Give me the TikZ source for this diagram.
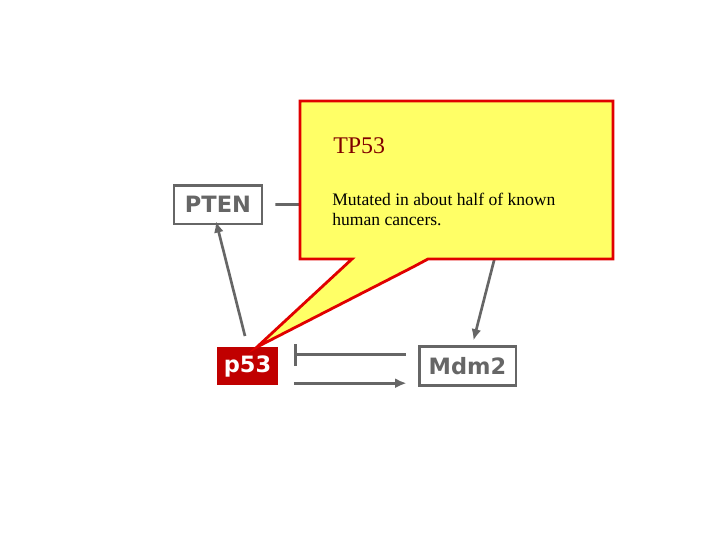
\documentclass[tikz,border=0pt]{standalone}
\usepackage{fontspec}
\setmainfont{Liberation Serif}
\newfontfamily\genefont{DejaVu Sans}
\usetikzlibrary{arrows.meta}

\definecolor{genegray}{HTML}{666666}
\definecolor{p53red}{HTML}{C00000}
\definecolor{tipyellow}{HTML}{FFFF66}
\definecolor{tipred}{HTML}{E00000}
\definecolor{tiptitle}{HTML}{800000}

\begin{document}
\begin{tikzpicture}
    [x = 0.025cm, y = -0.025cm,
     gene/.style = {draw = genegray, line width = 2pt, fill = white, text = genegray,
       font = \genefont\bfseries\fontsize{16}{18}\selectfont, inner sep = 0pt,
       minimum height = 0.97cm},
     link/.style = {draw = genegray, line width = 1.9pt, -{Latex[length = 8pt, width = 7pt]}},
     inhib/.style = {draw = genegray, line width = 1.9pt, -{Bar[width = 16pt, line width = 1.9pt]}}]
    \useasboundingbox (0,0) rectangle (720,540);
    % genes
    \node[gene, minimum width = 2.2cm] (pten) at (218,204.5) {PTEN};
    \node[gene, minimum width = 2.42cm] (mdm2) at (467.5,366) {Mdm2};
    \node[gene, draw = p53red, fill = p53red, text = white, line width = 0pt,
      minimum width = 1.52cm, minimum height = 0.92cm] (p53) at (247.5,366) {p53};
    \coordinate (akt) at (420,204);
    \coordinate (hid) at (498,245);
    % interactions
    \draw[genegray, line width = 1.9pt] ([xshift = 0.3cm]pten.east) -- (akt);
    \draw[link] (245,336) -- ([xshift = -0.05cm, yshift = 0.1cm]pten.south);
    \draw[link] (hid) -- ([xshift = 0.15cm, yshift = 0.12cm]mdm2.north);
    \draw[inhib] ([xshift = -0.3cm, yshift = 0.28cm]mdm2.west) -- ([xshift = 0.4cm, yshift = 0.28cm]p53.east);
    \draw[link] ([xshift = 0.4cm, yshift = -0.43cm]p53.east) -- ([xshift = -0.28cm, yshift = -0.43cm]mdm2.west);
    % callout
    \draw[tipred, fill = tipyellow, line width = 2pt, line join = miter]
      (300,101) -- (613,101) -- (613,259) -- (428,259) -- (413,267) -- (257,347)
      -- (352,259) -- (300,259) -- cycle;
    \node[anchor = base west, text = tiptitle, font = \fontsize{17}{20}\selectfont, inner sep = 0pt]
      (title) at (333,153) {TP53};
    \node[anchor = base west, align = left, font = \fontsize{12.5}{14.2}\selectfont, inner sep = 0pt]
      (note) at (332,225) {Mutated in about half of known\\human cancers.};
\end{tikzpicture}
\end{document}
